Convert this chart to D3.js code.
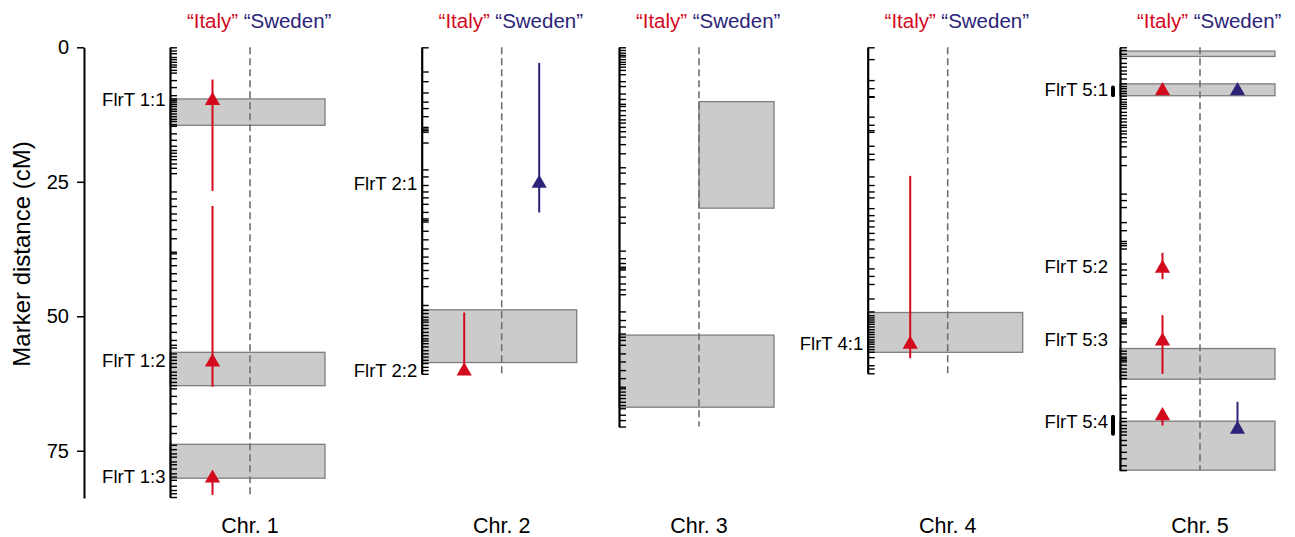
<!DOCTYPE html>
<html>
<head>
<meta charset="utf-8">
<script src="https://cdn.jsdelivr.net/npm/d3@7"></script>
<style>
  html, body { margin: 0; padding: 0; background: #fff; }
  svg { display: block; font-family: "Liberation Sans", Arial, sans-serif; }
</style>
</head>
<body>
<svg id="chart" width="1295" height="537"></svg>
<script>
// ---- data ----------------------------------------------------------------
const chromosomes = ["Chr. 1", "Chr. 2", "Chr. 3", "Chr. 4", "Chr. 5"];
const chromLength = [83.6, 60.7, 70.5, 60.6, 78.6];
const populations = ["\u201CItaly\u201D", "\u201CSweden\u201D"];
const distanceTicks = [0, 25, 50, 75];

// marker positions (cM) along each linkage group
const markers1 = [0, 0.6, 1.1, 1.8, 2.2, 2.7, 3.2, 3.6, 4.2, 4.7, 6.1, 7.4, 8.9, 9.5, 9.8, 10.1,
  10.5, 10.9, 11.4, 11.8, 12.3, 12.8, 13.3, 13.7, 14.3, 14.6, 16.0, 17.2, 18.3, 19.1, 19.6, 20.2,
  20.8, 21.6, 22.4, 23.4, 26.8, 28.1, 29.5, 30.9, 32.1, 33.8, 35.5, 38.0, 38.3, 39.2, 40.5, 42.0,
  43.4, 45.1, 46.7, 48.1, 49.8, 51.3, 52.9, 54.4, 55.3, 55.8, 56.9, 57.5, 58.1, 58.7, 59.4, 60.3,
  60.9, 61.5, 62.2, 62.8, 63.4, 64.8, 66.2, 68.0, 70.4, 71.7, 73.9, 74.7, 75.5, 76.1, 77.0, 77.5,
  78.3, 79.2, 79.8, 80.4, 81.5, 82.3, 82.9, 83.6];
const markers2 = [0, 4.5, 6.3, 8.4, 10.1, 11.3, 12.8, 14.8, 15.1, 15.4, 15.7, 17.7, 22.7, 24.0,
  25.6, 26.8, 27.9, 29.1, 30.6, 31.8, 32.1, 32.4, 34.1, 35.7, 37.4, 38.9, 40.1, 41.4, 42.9, 44.4,
  47.9, 48.8, 49.4, 50.1, 50.6, 51.0, 51.6, 52.2, 52.9, 53.5, 54.1, 54.5, 55.0, 55.6, 56.3, 56.9,
  57.5, 58.1, 58.7, 59.4, 60.0, 60.7];
const markers3 = [0, 0.5, 1.0, 1.4, 1.7, 2.2, 2.7, 3.1, 3.6, 4.2, 5.0, 6.3, 7.2, 8.6, 9.6, 10.5,
  10.9, 11.7, 12.6, 13.4, 14.0, 14.8, 15.6, 16.6, 18.0, 19.7, 22.3, 23.3, 25.3, 27.9, 29.6, 31.5,
  32.6, 37.8, 39.2, 40.1, 40.8, 41.1, 41.3, 42.6, 43.9, 45.0, 45.9, 49.1, 50.7, 51.9, 53.2, 53.8,
  54.4, 55.3, 56.9, 58.4, 60.0, 61.5, 63.1, 63.4, 64.0, 64.6, 65.2, 65.9, 66.5, 67.1, 68.3, 69.3,
  70.5];
const markers4 = [0, 2.2, 6.1, 7.6, 9.1, 9.2, 12.9, 14.4, 15.4, 15.7, 18.3, 19.8, 20.8, 24.0, 25.6,
  26.8, 27.9, 29.9, 31.2, 32.2, 33.3, 34.5, 35.7, 37.4, 39.0, 41.1, 42.5, 44.0, 46.7, 49.1, 49.8,
  50.2, 50.6, 51.0, 51.4, 51.9, 52.4, 52.9, 53.3, 53.8, 54.3, 54.7, 55.1, 55.6, 56.1, 56.6, 57.6,
  59.1, 59.7, 60.6];
const markers5 = [0, 0.5, 1.2, 2.0, 2.9, 3.6, 4.3, 4.9, 5.8, 6.7, 7.2, 7.6, 8.1, 8.5, 9.0, 9.6, 10.1,
  10.5, 10.9, 11.3, 12.0, 12.6, 13.2, 13.8, 14.4, 14.8, 15.5, 16.0, 16.7, 17.5, 18.4, 20.3, 21.9,
  27.2, 28.4, 29.7, 32.5, 34.0, 36.0, 36.4, 36.8, 37.4, 40.2, 41.3, 42.3, 43.9, 46.2, 48.2, 49.3,
  50.4, 50.7, 51.0, 51.3, 51.9, 53.2, 54.7, 56.4, 56.9, 57.5, 57.8, 58.1, 58.4, 59.0, 59.7, 60.3,
  60.9, 61.5, 63.0, 64.6, 65.2, 66.4, 67.7, 68.9, 69.5, 70.2, 70.8, 71.4, 72.0, 73.0, 73.9, 75.2,
  76.4, 77.7, 78.6];
const markerSets = [markers1, markers2, markers3, markers4, markers5];

// QTL support regions (grey boxes); "right" boxes cover only the Sweden half
const regionChr   = [1, 1, 1, 2, 3, 3, 4, 5, 5, 5, 5];
const regionStart = [9.6, 56.7, 73.8, 48.8, 10.1, 53.5, 49.3, 0.7, 6.8, 56.0, 69.5];
const regionEnd   = [14.5, 62.9, 80.1, 58.6, 29.9, 66.9, 56.7, 1.7, 9.0, 61.7, 78.6];
const regionSide  = ["all", "all", "all", "all", "right", "all", "all", "all", "all", "all", "all"];

// QTL peak estimates with support intervals, by population (0 = Italy, 1 = Sweden)
const qtlChr = [1, 1, 1, 2, 2, 4, 5, 5, 5, 5, 5, 5];
const qtlPop = [0, 0, 0, 1, 0, 0, 0, 1, 0, 0, 0, 1];
const qtlPos = [9.9, 58.5, 80.1, 25.3, 60.2, 55.2, 8.1, 8.1, 41.1, 54.6, 68.5, 71.0];
const qtlLo  = [6.0, 29.5, 80.1, 2.9, 49.3, 23.9, 8.1, 8.1, 38.2, 49.8, 67.9, 65.9];
const qtlHi  = [26.7, 63.1, 83.2, 30.7, 60.2, 57.8, 8.1, 8.1, 43.1, 60.7, 70.3, 71.0];

// QTL names beside the chromosome axes
const labelChr  = [1, 1, 1, 2, 2, 4, 5, 5, 5, 5];
const labelText = ["FlrT 1:1", "FlrT 1:2", "FlrT 1:3", "FlrT 2:1", "FlrT 2:2", "FlrT 4:1",
                   "FlrT 5:1", "FlrT 5:2", "FlrT 5:3", "FlrT 5:4"];
const labelPos  = [9.8, 58.3, 79.8, 25.3, 60.0, 55.0, 7.9, 40.8, 54.4, 69.6];

// known flowering-time loci marked on chromosome 5
const locusChr   = [5, 5];
const locusStart = [7.2, 68.4];
const locusEnd   = [9.2, 72.1];

// ---- layout ----------------------------------------------------------------
const colors = ["#d3091c", "#2b2479"];
const svg = d3.select("#chart");

const y = d3.scaleLinear().domain([0, 83.8]).range([47.3, 498.1]);

// centre (dashed line) of each chromosome panel
const centreOf = i => [250, 501.7, 699, 947.7, 1200][i];
const axisOffset = -80, boxRight = 75, popOffset = [-37.5, 37.5];

// y axis for the whole figure
svg.append("g")
  .attr("transform", "translate(84,0)")
  .call(d3.axisLeft(y).tickValues(distanceTicks).tickSize(7).tickSizeOuter(0).tickPadding(8))
  .call(g => g.select(".domain").attr("stroke-width", 2))
  .call(g => g.selectAll(".tick line").attr("stroke-width", 1.5))
  .call(g => g.selectAll(".tick text").attr("font-size", 20).attr("font-family", "Liberation Sans, Arial, sans-serif").attr("fill", "#000"));

svg.append("text")
  .attr("transform", "translate(30,254) rotate(-90)")
  .attr("text-anchor", "middle")
  .attr("font-size", 24)
  .text("Marker distance (cM)");

chromosomes.forEach((name, i) => {
  const cx = centreOf(i);
  const ax = cx + axisOffset;
  const chr = i + 1;
  const g = svg.append("g");

  // grey QTL regions
  regionChr.forEach((c, k) => {
    if (c !== chr) return;
    const x0 = regionSide[k] === "right" ? cx : ax;
    g.append("rect")
      .attr("x", x0)
      .attr("y", y(regionStart[k]))
      .attr("width", cx + boxRight - x0)
      .attr("height", y(regionEnd[k]) - y(regionStart[k]))
      .attr("fill", "#cbcbcb")
      .attr("stroke", "#7d7d7d")
      .attr("stroke-width", 1.3);
  });

  // dashed divider between the two populations
  g.append("line")
    .attr("x1", cx).attr("x2", cx)
    .attr("y1", y(0)).attr("y2", y(chromLength[i]))
    .attr("stroke", "#707070")
    .attr("stroke-width", 1.6)
    .attr("stroke-dasharray", "7,4");

  // marker map as an axis with unlabelled ticks
  const ys = d3.scaleLinear().domain([0, chromLength[i]]).range([y(0), y(chromLength[i])]);
  g.append("g")
    .attr("transform", `translate(${ax},0)`)
    .call(d3.axisRight(ys).tickValues(markerSets[i]).tickSize(7).tickSizeOuter(0).tickFormat(""))
    .call(a => a.select(".domain").attr("stroke-width", 2.2).attr("stroke", "#000"))
    .call(a => a.selectAll(".tick line").attr("stroke-width", 1.4).attr("stroke", "#000"));

  // support intervals and peak triangles
  qtlChr.forEach((c, k) => {
    if (c !== chr) return;
    const px = cx + popOffset[qtlPop[k]];
    if (qtlHi[k] > qtlLo[k]) {
      g.append("line")
        .attr("x1", px).attr("x2", px)
        .attr("y1", y(qtlLo[k])).attr("y2", y(qtlHi[k]))
        .attr("stroke", colors[qtlPop[k]])
        .attr("stroke-width", 2);
    }
    g.append("path")
      .attr("transform", `translate(${px},${y(qtlPos[k])})`)
      .attr("d", d3.symbol(d3.symbolTriangle, 100)())
      .attr("fill", colors[qtlPop[k]]);
  });

  // QTL names
  labelChr.forEach((c, k) => {
    if (c !== chr) return;
    g.append("text")
      .attr("x", ax - (chr === 5 ? 12 : 4.5))
      .attr("y", y(labelPos[k]))
      .attr("dy", "0.35em")
      .attr("text-anchor", "end")
      .attr("font-size", 18.5)
      .text(labelText[k]);
  });

  // known loci bars
  locusChr.forEach((c, k) => {
    if (c !== chr) return;
    g.append("line")
      .attr("x1", ax - 7).attr("x2", ax - 7)
      .attr("y1", y(locusStart[k]) + 1.5).attr("y2", y(locusEnd[k]) - 1.5)
      .attr("stroke", "#000")
      .attr("stroke-width", 4)
      .attr("stroke-linecap", "round");
  });

  // population headers
  populations.forEach((p, j) => {
    g.append("text")
      .attr("x", cx + popOffset[j])
      .attr("y", 28)
      .attr("text-anchor", "middle")
      .attr("font-size", 20.5)
      .attr("fill", colors[j])
      .text(p);
  });

  // chromosome name
  g.append("text")
    .attr("x", cx)
    .attr("y", 533)
    .attr("text-anchor", "middle")
    .attr("font-size", 21.5)
    .text(name);
});
</script>
</body>
</html>
